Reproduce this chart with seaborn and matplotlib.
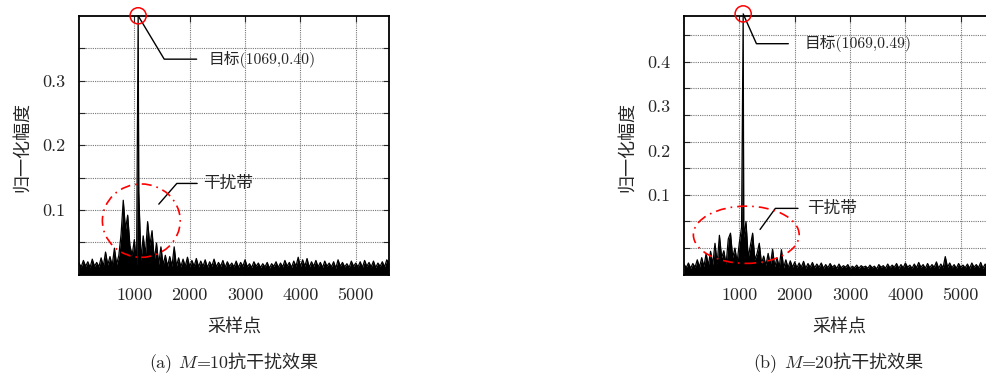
import numpy as np
import pandas as pd
import matplotlib
matplotlib.use('Agg')
import matplotlib.pyplot as plt
from matplotlib.patches import Ellipse
import seaborn as sns

# sample index grid (every 40th sample) and amplitudes
samples = np.arange(0, 5601, 40)

amp_a = [
    0.018, 0.012, 0.022, 0.013, 0.020, 0.011, 0.024, 0.013, 0.019, 0.012,
    0.026, 0.013, 0.035, 0.015, 0.028, 0.014, 0.041, 0.016, 0.030, 0.062,
    0.115, 0.070, 0.092, 0.045, 0.030, 0.054, 0.015, 0.128, 0.022, 0.060,
    0.030, 0.082, 0.045, 0.068, 0.022, 0.049, 0.016, 0.043, 0.015, 0.030,
    0.013, 0.028, 0.013, 0.043, 0.013, 0.026, 0.012, 0.024, 0.013, 0.027,
    0.012, 0.022, 0.013, 0.025, 0.012, 0.021, 0.013, 0.023, 0.011, 0.020,
    0.013, 0.024, 0.012, 0.019, 0.013, 0.022, 0.011, 0.020, 0.013, 0.018,
    0.012, 0.021, 0.011, 0.019, 0.013, 0.023, 0.012, 0.017, 0.011, 0.020,
    0.013, 0.018, 0.011, 0.017, 0.012, 0.019, 0.010, 0.017, 0.013, 0.020,
    0.011, 0.018, 0.012, 0.022, 0.013, 0.019, 0.011, 0.021, 0.013, 0.027,
    0.012, 0.023, 0.013, 0.025, 0.011, 0.020, 0.013, 0.022, 0.012, 0.019,
    0.011, 0.021, 0.013, 0.018, 0.012, 0.020, 0.010, 0.023, 0.013, 0.019,
    0.012, 0.017, 0.011, 0.021, 0.013, 0.018, 0.012, 0.020, 0.011, 0.022,
    0.013, 0.019, 0.012, 0.021, 0.011, 0.018, 0.013, 0.020, 0.012, 0.023,
    0.018,
]

amp_b = [
    0.020, 0.013, 0.022, 0.012, 0.021, 0.014, 0.028, 0.014, 0.032, 0.015,
    0.040, 0.017, 0.044, 0.019, 0.059, 0.021, 0.074, 0.032, 0.045, 0.019,
    0.067, 0.078, 0.032, 0.050, 0.024, 0.060, 0.089, 0.070, 0.100, 0.032,
    0.055, 0.078, 0.028, 0.040, 0.059, 0.021, 0.035, 0.017, 0.040, 0.018,
    0.048, 0.015, 0.032, 0.014, 0.047, 0.013, 0.028, 0.013, 0.026, 0.014,
    0.024, 0.013, 0.022, 0.014, 0.025, 0.012, 0.021, 0.014, 0.023, 0.013,
    0.020, 0.014, 0.022, 0.012, 0.019, 0.013, 0.021, 0.014, 0.018, 0.012,
    0.020, 0.013, 0.017, 0.014, 0.019, 0.011, 0.016, 0.013, 0.018, 0.012,
    0.017, 0.014, 0.016, 0.012, 0.018, 0.013, 0.016, 0.011, 0.019, 0.014,
    0.017, 0.012, 0.020, 0.013, 0.018, 0.014, 0.021, 0.012, 0.019, 0.013,
    0.022, 0.014, 0.018, 0.012, 0.020, 0.013, 0.023, 0.014, 0.019, 0.012,
    0.021, 0.013, 0.019, 0.014, 0.024, 0.012, 0.020, 0.013, 0.034, 0.014,
    0.022, 0.013, 0.019, 0.012, 0.021, 0.014, 0.018, 0.013, 0.020, 0.012,
    0.022, 0.014, 0.019, 0.013, 0.023, 0.012, 0.020, 0.014, 0.021, 0.013,
    0.019,
]

target_x = 1069
target_y = [0.40, 0.49]
m_values = [10, 20]
tags = ['(a)', '(b)']
y_top = [0.400, 0.486]
xtick_pos = [1000, 2000, 3000, 4000, 5000]
xtick_lab = ['1000', '2000', '3000', '4000', '5000']
ytick_pos = [[0.1, 0.2, 0.3], [0.15, 0.2333, 0.3167, 0.4]]
ytick_lab = [['0.1', '0.2', '0.3'], ['0.1', '0.2', '0.3', '0.4']]

sns.set_style('white')
plt.rcParams['font.family'] = ['cmr10', 'Noto Sans CJK SC']
plt.rcParams['mathtext.fontset'] = 'cm'
plt.rcParams['axes.unicode_minus'] = False
plt.rcParams['axes.formatter.use_mathtext'] = True

fig = plt.figure(figsize=(9.86, 3.76), dpi=100)
W = 986.0
ax_pos = [[0.0801, 0.2694, 0.3144, 0.6886], [0.6937, 0.2694, 0.3144, 0.688]]

# annotation layout per panel: (text xy, angleB, shrinkA) for target and band
tgt_txt = [((2335, 0.333), -59, 6), ((2170, 0.434), -66, 9)]
band_xy = [(1442, 0.109), (1374, 0.085)]
band_txt = [((2244, 0.141), 49, 2), ((2219, 0.1246), 54, 4)]
ell = [((1126, 0.0835), 1406, 0.1133), ((1125, 0.075), 1911, 0.1075)]
grid_kw = dict(color='#777777', lw=0.8, ls=(0, (1, 1)))

for k in range(2):
    ax = fig.add_axes(ax_pos[k])
    amps = [amp_a, amp_b][k]
    df = pd.DataFrame({'x': np.r_[samples, target_x], 'amp': np.r_[amps, target_y[k]]})
    df = df.sort_values('x')
    ax.fill_between(df['x'], 0, df['amp'], color='black', lw=0, zorder=2)
    sns.lineplot(data=df, x='x', y='amp', ax=ax, color='black', lw=0.9,
                 estimator=None, sort=True, zorder=3)

    ax.set_xlim(0, 5600)
    ax.set_ylim(0, y_top[k])
    ax.set_xticks(xtick_pos)
    ax.set_xticklabels(xtick_lab)
    ax.set_yticks(ytick_pos[k])
    ax.set_yticklabels(ytick_lab[k])
    ax.set_yticks(np.arange(0.05, y_top[k], 0.05), minor=True)
    ax.yaxis.remove_overlapping_locs = False
    ax.tick_params(axis='x', which='major', direction='in', length=4, width=0.8,
                   top=True, bottom=True, pad=9, labelsize=13)
    ax.tick_params(axis='y', which='major', length=0, pad=10, labelsize=13)
    ax.tick_params(axis='y', which='minor', direction='in', length=4, width=0.8,
                   left=True, right=True)
    ax.xaxis.grid(True, which='major', **grid_kw)
    ax.yaxis.grid(True, which='minor', **grid_kw)
    ax.yaxis.grid(False, which='major')
    ax.set_axisbelow(True)
    for s in ax.spines.values():
        s.set_visible(True)
        s.set_color('black')
        s.set_linewidth(1.3)

    ax.set_xlabel('采样点', fontsize=13)
    ax.set_ylabel('归一化幅度', fontsize=13)
    ax.xaxis.set_label_coords(0.5, -0.171)
    ax.yaxis.set_label_coords(-0.158, 0.493)

    # red circle around the target peak
    ax.scatter([target_x], [target_y[k]], s=135, facecolors='none',
               edgecolors='red', linewidths=1.1, clip_on=False, zorder=5)

    (tx, ang, shr) = tgt_txt[k]
    ax.annotate('目标(%d,%.2f)' % (target_x, target_y[k]), xy=(target_x, target_y[k]),
                xytext=tx, fontsize=11.3, ha='left', va='center', annotation_clip=False,
                arrowprops=dict(arrowstyle='-', color='black', lw=1.0, relpos=(0, 0.5),
                                shrinkA=shr, shrinkB=0,
                                connectionstyle='angle,angleA=0,angleB=%d,rad=0' % ang))
    (tx, ang, shr) = band_txt[k]
    ax.annotate('干扰带', xy=band_xy[k], xytext=tx, fontsize=12, ha='left', va='center',
                arrowprops=dict(arrowstyle='-', color='black', lw=1.0, relpos=(0, 0.5),
                                shrinkA=shr, shrinkB=0,
                                connectionstyle='angle,angleA=0,angleB=%d,rad=0' % ang))
    c, w, h = ell[k]
    ax.add_patch(Ellipse(c, w, h, fill=False, edgecolor='red', lw=1.2,
                         ls=(0, (6, 3, 1, 3)), zorder=4))

# captions: "(a) M=10抗干扰效果", pieces laid side by side on one baseline
fig.canvas.draw()
r = fig.canvas.get_renderer()
cap_x = [0.2373, 0.851]
for k in range(2):
    pieces = [fig.text(0, 0.0213, tags[k], fontsize=13, va='baseline'),
              fig.text(0, 0.0213, '$M$', fontsize=13, va='baseline'),
              fig.text(0, 0.0213, '=%d抗干扰效果' % m_values[k], fontsize=13, va='baseline')]
    gaps = [6, -2, 0]
    widths = [p.get_window_extent(r).width for p in pieces]
    total = sum(widths) + sum(gaps[:-1])
    x = cap_x[k] * W - total / 2
    for p, w, g in zip(pieces, widths, gaps):
        p.set_x(x / W)
        x += w + g

fig.savefig('out.png', dpi=100)
